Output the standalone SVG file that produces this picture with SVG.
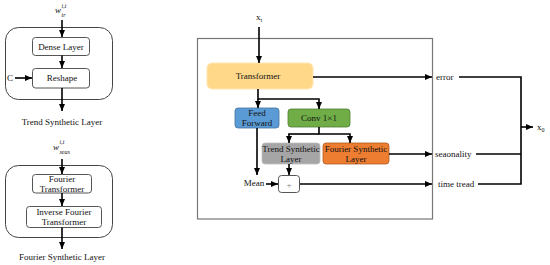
<svg xmlns="http://www.w3.org/2000/svg" width="550" height="265" viewBox="0 0 550 265" font-family="'Liberation Serif', 'Times New Roman', serif">
<defs>
<marker id="ah" markerUnits="userSpaceOnUse" markerWidth="7" markerHeight="6" refX="7" refY="3" orient="auto">
<path d="M0,0 L7,3 L0,6 z" fill="#000"/>
</marker>
<style>
text{font-family:"Liberation Serif","Times New Roman",serif;font-size:9px;fill:#111;}
.c{text-anchor:middle;}
.ob{fill:#fff;stroke:#444;stroke-width:1;}
.ib{fill:#fff;stroke:#555;stroke-width:1;}
.ln{fill:none;stroke:#000;stroke-width:1.6;}
.ar{fill:none;stroke:#000;stroke-width:1.6;marker-end:url(#ah);}
.it{font-style:italic;}
.sm{font-size:6px;}
</style>
</defs>
<rect width="550" height="265" fill="#fff"/>

<g id="trend-panel">
<text x="55" y="13" class="it">w</text>
<text x="61.5" y="16.5" class="it sm">tr</text>
<text x="61.5" y="7.5" class="it sm">i,t</text>
<rect class="ob" x="5.5" y="27.5" width="107" height="72" rx="13"/>
<g id="dense"><rect class="ib" x="32.5" y="37.5" width="57" height="18" rx="3"/><text class="c" x="61" y="49.5">Dense Layer</text></g>
<g id="reshape"><rect class="ib" x="32.5" y="68.5" width="57" height="19.5" rx="3"/><text class="c" x="62" y="81">Reshape</text></g>
<text x="7" y="81">C</text>
<text class="c" x="62" y="125">Trend Synthetic Layer</text>
</g>

<g id="fourier-panel">
<text x="53" y="150" class="it">w</text>
<text x="59.5" y="153.5" class="it sm">seas</text>
<text x="59.5" y="144" class="it sm">i,t</text>
<rect class="ob" x="5.5" y="165.5" width="107" height="72" rx="13"/>
<g id="ft"><rect class="ib" x="32.5" y="174.5" width="59" height="18.5" rx="3"/><text class="c" x="62" y="182">Fourier</text><text class="c" x="62" y="191.5">Transformer</text></g>
<g id="ift"><rect class="ib" x="26.5" y="206.5" width="75" height="21" rx="3"/><text class="c" x="64" y="215">Inverse Fourier</text><text class="c" x="64" y="225">Transformer</text></g>
<text class="c" x="62" y="260">Fourier Synthetic Layer</text>
</g>

<g id="main-box">
<rect x="197.5" y="38.5" width="235" height="180.5" fill="none" stroke="#777" stroke-width="1.2"/>
</g>

<text class="c" x="259" y="20">x<tspan class="sm" dy="2">t</tspan></text>

<g id="transformer"><rect x="207" y="63" width="106" height="26" rx="5" fill="#FFD88A" stroke="#FFE6B0" stroke-width="1"/><text class="c" x="258" y="79">Transformer</text></g>
<g id="feedforward"><rect x="235" y="108" width="44" height="20" rx="3" fill="#5B9BD5" stroke="#41719C" stroke-width="0.8"/><text class="c" x="257" y="116">Feed</text><text class="c" x="257" y="126">Forward</text></g>
<g id="conv"><rect x="288" y="109" width="62" height="18" rx="3" fill="#70AD47" stroke="#507E32" stroke-width="0.8"/><text class="c" x="319" y="121">Conv 1×1</text></g>
<g id="trend-syn"><rect x="262" y="143" width="58" height="21" rx="3" fill="#A6A6A6" stroke="#BFBFBF" stroke-width="0.8"/><text class="c" x="291" y="151.5">Trend Synthetic</text><text class="c" x="291" y="161.5">Layer</text></g>
<g id="fourier-syn"><rect x="323" y="143" width="66" height="21" rx="3" fill="#ED7D31" stroke="#AE5A21" stroke-width="0.8"/><text class="c" x="356" y="151.5">Fourier Synthetic</text><text class="c" x="356" y="161.5">Layer</text></g>
<g id="plus"><rect x="278.5" y="175.5" width="21" height="17" rx="3" fill="#fff" stroke="#555" stroke-width="1"/><text class="c" x="289" y="187.5" style="fill:#777">+</text></g>
<g id="mean"><text class="c" x="254" y="186">Mean</text></g>
<g id="labels">
<text x="436" y="80">error</text>
<text x="435" y="157">seaonality</text>
<text x="438" y="187">time tread</text>
<text x="537" y="130">x<tspan class="sm" dy="2">0</tspan></text>
</g>

<g id="connectors">
<line class="ar" x1="62" y1="20" x2="62" y2="37"/>
<line class="ar" x1="62" y1="55.5" x2="62" y2="68"/>
<line class="ar" x1="15" y1="78" x2="32" y2="78"/>
<line class="ar" x1="62" y1="88" x2="62" y2="111"/>
<line class="ar" x1="62" y1="159" x2="62" y2="174"/>
<line class="ar" x1="62" y1="193" x2="62" y2="206"/>
<line class="ar" x1="62" y1="227.5" x2="62" y2="249"/>

<line class="ar" x1="259" y1="27" x2="259" y2="63"/>
<line class="ar" x1="313" y1="77" x2="432" y2="77"/>
<polyline class="ar" points="258,89 258,99 319,99 319,109"/>
<line class="ar" x1="258" y1="99" x2="258" y2="108"/>
<polyline class="ar" points="289,134 289,143"/>
<polyline class="ar" points="319,127 319,134 350,134 350,143"/>
<line class="ln" x1="288.2" y1="134" x2="319" y2="134"/>
<line class="ar" x1="257" y1="128" x2="257" y2="175"/>
<line class="ar" x1="266" y1="184" x2="278" y2="184"/>
<line class="ar" x1="289" y1="164" x2="289" y2="175"/>
<line class="ar" x1="300" y1="184" x2="432" y2="184"/>
<line class="ar" x1="389" y1="154" x2="432" y2="154"/>
<polyline class="ln" points="459,77 521,77 521,184 478,184"/>
<line class="ln" x1="476" y1="154" x2="521" y2="154"/>
<line class="ar" x1="521" y1="127" x2="533" y2="127"/>
</g>
</svg>
